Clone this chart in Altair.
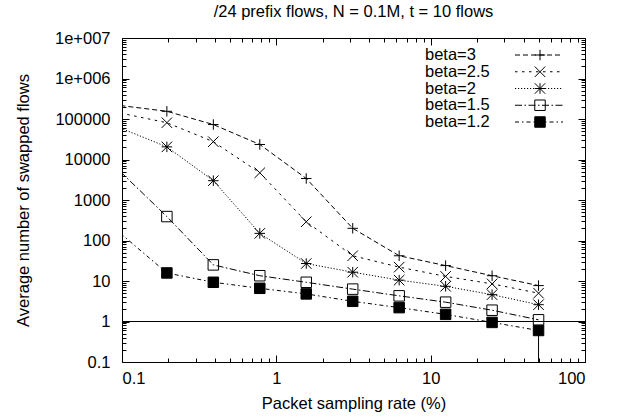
import altair as alt
import pandas as pd

# ---------------- data ----------------
sampling_rate = [0.09765625, 0.1953125, 0.390625, 0.78125, 1.5625, 3.125, 6.25, 12.5, 25, 50]
beta_3 = [215000, 155000, 73000, 23500, 3400, 200, 42, 24, 13.5, 7.7]
beta_2_5 = [140000, 81000, 27500, 4700, 290, 42, 22, 13, 8.5, 5.0]
beta_2 = [60000, 20500, 3000, 150, 27, 16.5, 10.5, 7.4, 4.6, 2.6]
beta_1_5 = [5000, 390, 25, 13.5, 9.3, 6.3, 4.3, 3.0, 1.9, 1.1]
beta_1_2 = [150, 15.8, 9.3, 6.6, 4.8, 3.15, 2.2, 1.5, 0.95, 0.6]
series_names = ["beta=3", "beta=2.5", "beta=2", "beta=1.5", "beta=1.2"]
series_values = [beta_3, beta_2_5, beta_2, beta_1_5, beta_1_2]

reference_level = [1]
drop_rate = [50]
drop_top = [0.6]
drop_bottom = [0.1]

x_major = [0.1, 1, 10, 100]
x_major_labels = ["0.1", "1", "10", "100"]
y_major = [0.1, 1, 10, 100, 1000, 10000, 100000, 1000000, 10000000]
y_major_labels = ["0.1", "1", "10", "100", "1000", "10000", "100000", "1e+006", "1e+007"]
x_minor = [d * k for d in x_major[:-1] for k in range(2, 10)]
y_minor = [d * k for d in y_major[:-1] for k in range(2, 10)]

title_text = "/24 prefix flows, N = 0.1M, t = 10 flows"
x_title = "Packet sampling rate (%)"
y_title = "Average number of swapped flows"

# ---------------- tables ----------------
rows = []
for name, vals in zip(series_names, series_values):
    for i, (x, y) in enumerate(zip(sampling_rate, vals)):
        rows.append({"series": name, "rate": x, "flows": y, "idx": i})
df = pd.DataFrame(rows)
ref_df = pd.DataFrame({"level": reference_level})
drop_df = pd.DataFrame({"rate": drop_rate, "top": drop_top, "bottom": drop_bottom})
legend_df = pd.DataFrame({"series": series_names})

# ---------------- styling ----------------
FONT = "Liberation Sans"
FS = 16.5
W, H = 463, 324
MAJ, MIN = 7, 4

PLUS = "M-1,0L1,0M0,-1L0,1"
CROSS = "M-1,-1L1,1M-1,1L1,-1"
STAR = "M-1,0L1,0M0,-1L0,1M-1,-1L1,1M-1,1L1,-1"

dash_scale = alt.Scale(domain=series_names,
                       range=[[5, 3], [2.5, 4.5], [1.2, 1.8], [7, 2.5, 1.5, 2.5], [4, 3, 1.5, 3]])
shape_scale = alt.Scale(domain=series_names, range=[PLUS, CROSS, STAR, "square", "square"])
fill_scale = alt.Scale(domain=series_names,
                       range=["transparent", "transparent", "transparent", "transparent", "black"])

xscale = alt.Scale(type="log", domain=[0.1, 100], nice=False)
yscale = alt.Scale(type="log", domain=[0.1, 1e7], nice=False)


def label_expr(values, labels):
    expr = f"'{labels[-1]}'"
    for v, l in reversed(list(zip(values[:-1], labels[:-1]))):
        expr = f"datum.value < {v * 3.1623} ? '{l}' : " + expr
    return expr


def ax(orient, values, size, labels=False, expr=None, title=None, **kw):
    args = dict(orient=orient, values=values, tickSize=size, offset=-size, domain=False,
                grid=False, ticks=True, tickColor="black", tickWidth=1, labels=labels,
                labelFont=FONT, labelFontSize=FS, labelColor="black",
                titleFont=FONT, titleFontSize=FS, titleFontWeight="normal", titleColor="black")
    if expr is not None:
        args["labelExpr"] = expr
    args["title"] = title
    args.update(kw)
    return alt.Axis(**args)


x_bottom_major = ax("bottom", x_major, MAJ, labels=True, expr=label_expr(x_major, x_major_labels),
                    title=x_title, labelPadding=8, titlePadding=9)
y_left_major = ax("left", y_major, MAJ, labels=True, expr=label_expr(y_major, y_major_labels),
                  title=y_title, labelPadding=12, titleBaseline="alphabetic", titleX=-101)

lines = alt.Chart(df).mark_line(color="black", strokeWidth=1, clip=True).encode(
    x=alt.X("rate:Q", scale=xscale, axis=x_bottom_major),
    y=alt.Y("flows:Q", scale=yscale, axis=y_left_major),
    strokeDash=alt.StrokeDash("series:N", scale=dash_scale, legend=None),
    detail="series:N",
    order="idx:Q",
)

markers = alt.Chart(df).transform_filter("datum.rate >= 0.1").mark_point(
    filled=True, stroke="black", strokeWidth=1, size=110, opacity=1).encode(
    x=alt.X("rate:Q", scale=xscale, axis=ax("bottom", x_minor, MIN)),
    y=alt.Y("flows:Q", scale=yscale, axis=ax("left", y_minor, MIN)),
    shape=alt.Shape("series:N", scale=shape_scale, legend=None),
    fill=alt.Fill("series:N", scale=fill_scale, legend=None),
)

ref = alt.Chart(ref_df).mark_rule(color="black", strokeWidth=1).encode(
    y=alt.Y("level:Q", scale=yscale, axis=ax("right", y_major, MAJ)),
)

drop = alt.Chart(drop_df).mark_rule(color="black", strokeWidth=1).encode(
    x=alt.X("rate:Q", scale=xscale, axis=ax("top", x_major, MAJ)),
    y=alt.Y("top:Q", scale=yscale, axis=ax("right", y_minor, MIN)),
    y2="bottom:Q",
)

top_minor = alt.Chart(df).mark_point(opacity=0).encode(
    x=alt.X("rate:Q", scale=xscale, axis=ax("top", x_minor, MIN)),
    y=alt.Y("flows:Q", scale=yscale, axis=None),
)

leg_y = alt.Y("series:N", sort=series_names,
              scale=alt.Scale(type="point", domain=series_names, range=[17, 84], padding=0),
              axis=None)

leg_line = alt.Chart(legend_df).mark_rule(color="black", strokeWidth=1).encode(
    x=alt.value(393), x2=alt.value(441), y=leg_y,
    strokeDash=alt.StrokeDash("series:N", scale=dash_scale, legend=None),
)
leg_pt = alt.Chart(legend_df).mark_point(filled=True, stroke="black", strokeWidth=1,
                                         size=110, opacity=1).encode(
    x=alt.value(418), y=leg_y,
    shape=alt.Shape("series:N", scale=shape_scale, legend=None),
    fill=alt.Fill("series:N", scale=fill_scale, legend=None),
)
leg_txt = alt.Chart(legend_df).mark_text(align="left", baseline="middle", font=FONT,
                                         fontSize=FS, color="black").encode(
    x=alt.value(303), y=leg_y, text="series:N",
)

chart = alt.layer(lines, markers, ref, drop, top_minor, leg_line, leg_pt, leg_txt).resolve_scale(
    y="independent", shape="independent", fill="independent", strokeDash="independent"
).resolve_axis(x="independent", y="independent").properties(
    width=W, height=H,
    title=alt.TitleParams(title_text, font=FONT, fontSize=FS, fontWeight="normal", color="black",
                          anchor="middle", baseline="alphabetic", offset=-3),
    padding={"left": 122, "top": 38, "right": 620 - 122 - W, "bottom": 420 - 38 - H},
    autosize=alt.AutoSizeParams(type="none"),
    background="white",
).configure_view(stroke="black", strokeWidth=1)

chart.save("out.html", embed_options={"renderer": "svg", "actions": False})
